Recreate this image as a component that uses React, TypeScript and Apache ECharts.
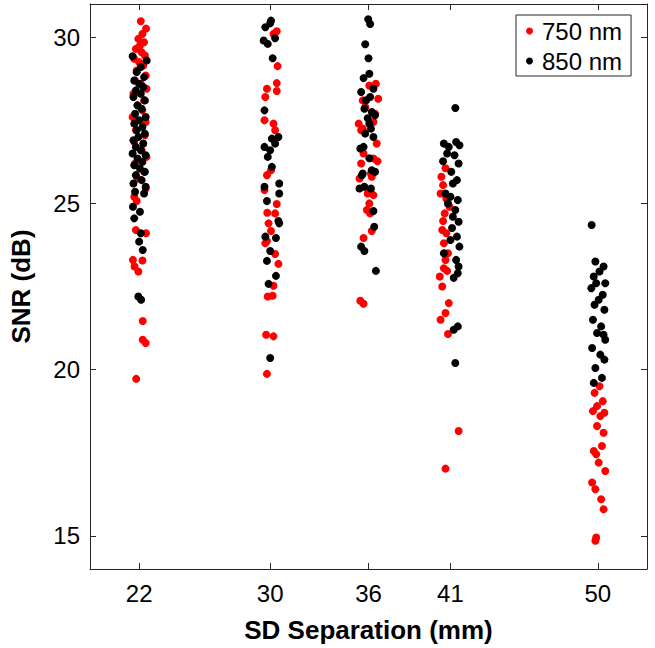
import React, { useEffect, useRef } from "react";
import * as echarts from "echarts";

const separations = [22, 30, 36, 41, 50];
const snrTicks = [15, 20, 25, 30];
const wavelengths = ["750 nm", "850 nm"];

// [SD separation (mm, with jitter), SNR (dB)]
const red22 = [[22.10,30.48],[22.42,30.26],[22.20,30.10],[21.95,29.95],[22.30,29.85],[22.05,29.75],[21.80,29.65],[22.15,29.55],[22.35,29.45],[21.70,29.35],[22.00,29.25],[22.25,29.15],[21.85,29.00],[22.40,28.85],[21.75,28.70],[22.10,28.60],[22.45,28.45],[21.65,28.30],[22.30,28.10],[21.90,27.95],[22.20,27.80],[21.60,27.60],[22.40,27.45],[21.80,27.20],[22.35,27.05],[21.70,26.85],[22.15,26.60],[22.45,26.40],[21.75,26.20],[22.30,25.95],[21.90,25.75],[22.40,25.45],[21.70,25.20],[21.85,25.07],[21.80,24.20],[22.42,24.10],[21.62,23.30],[22.20,23.28],[21.72,23.10],[21.95,22.95],[22.22,21.46],[22.22,20.90],[22.40,20.80],[21.82,19.72]];
const black22 = [[21.60,29.43],[22.46,29.30],[22.10,29.10],[21.85,28.95],[22.30,28.80],[21.70,28.70],[22.00,28.60],[22.25,28.50],[21.80,28.40],[22.10,28.30],[21.65,28.20],[22.35,28.10],[21.90,27.95],[22.15,27.85],[21.75,27.70],[22.40,27.60],[22.00,27.50],[21.70,27.40],[22.20,27.30],[21.85,27.20],[22.35,27.10],[21.95,27.00],[21.65,26.90],[22.25,26.80],[21.80,26.70],[22.10,26.60],[21.60,26.50],[22.40,26.45],[21.90,26.35],[22.20,26.25],[21.70,26.15],[22.05,26.05],[22.35,25.95],[21.80,25.85],[22.15,25.70],[21.65,25.60],[22.40,25.50],[21.75,25.35],[22.30,25.30],[21.62,24.90],[22.05,24.75],[21.70,24.55],[22.10,24.10],[22.00,23.85],[22.22,23.60],[21.95,22.20],[22.12,22.10]];
const red30 = [[30.40,30.18],[30.20,30.10],[30.45,29.13],[30.40,28.62],[30.40,28.38],[29.80,28.45],[29.70,28.20],[30.20,27.40],[30.30,27.20],[29.65,27.50],[30.05,26.00],[29.80,25.85],[30.40,24.98],[30.30,24.70],[29.82,24.72],[29.90,24.40],[30.05,24.17],[29.80,23.87],[30.30,23.48],[30.50,23.18],[30.20,22.52],[29.85,22.20],[30.15,22.22],[30.20,21.00],[29.75,21.05],[29.80,19.87],[29.70,23.80],[29.65,25.40]];
const black30 = [[30.05,30.50],[30.00,30.42],[29.70,30.30],[30.30,29.97],[29.85,29.80],[29.60,29.90],[30.15,29.37],[30.50,27.00],[30.10,26.95],[30.30,26.80],[30.00,26.60],[29.85,26.40],[29.65,26.70],[30.10,26.10],[30.55,25.60],[30.55,25.30],[29.80,25.07],[29.65,25.50],[30.50,24.47],[30.55,24.40],[30.35,23.96],[30.00,23.57],[29.80,23.27],[30.35,22.82],[29.90,22.58],[29.70,24.00],[30.00,20.35],[29.65,27.80]];
const red36 = [[36.45,28.60],[36.05,28.55],[36.59,28.15],[35.65,28.10],[35.40,27.40],[36.30,27.45],[35.65,27.25],[35.55,27.20],[36.50,26.80],[35.70,26.50],[36.30,26.35],[35.55,26.20],[36.55,26.27],[36.20,25.80],[35.45,25.75],[36.15,25.90],[35.95,25.30],[36.30,25.25],[36.05,25.00],[35.90,24.80],[36.10,24.70],[36.20,24.17],[35.70,23.96],[35.50,22.07],[35.70,21.98],[36.40,27.70],[35.80,27.90]];
const black36 = [[35.98,30.54],[36.10,30.40],[35.80,29.79],[36.00,29.37],[36.05,28.90],[35.70,28.77],[36.30,28.45],[35.55,28.35],[36.10,28.20],[35.85,28.10],[35.75,27.85],[36.20,27.75],[36.40,27.65],[35.95,27.56],[36.05,27.40],[36.15,27.25],[35.80,27.10],[36.30,27.00],[35.70,26.70],[35.50,26.65],[36.05,26.36],[36.20,26.00],[36.40,25.95],[35.60,25.85],[35.65,25.90],[35.45,25.45],[36.15,25.45],[35.75,25.50],[36.30,24.77],[36.35,24.30],[35.55,23.70],[35.75,23.57],[36.45,22.97]];
const red41 = [[40.70,26.06],[40.45,25.80],[40.55,25.55],[40.75,25.15],[40.65,24.70],[40.55,24.47],[40.50,24.20],[40.75,24.10],[40.60,23.80],[40.85,23.50],[40.70,23.30],[40.60,23.05],[40.80,22.97],[40.50,22.50],[40.90,22.00],[40.70,21.70],[40.40,21.50],[40.85,21.07],[40.70,17.02],[41.50,18.15],[40.40,25.30],[40.95,24.90],[40.35,22.80]];
const black41 = [[41.30,27.87],[40.60,26.80],[40.90,26.70],[41.35,26.85],[41.55,26.75],[40.80,26.50],[41.25,26.45],[40.55,26.27],[41.50,26.20],[41.05,25.95],[41.40,25.70],[41.15,25.60],[40.70,25.30],[41.00,25.20],[41.45,25.10],[40.85,25.00],[41.30,24.80],[41.15,24.60],[41.50,24.45],[41.10,24.26],[41.40,24.00],[41.55,23.70],[40.60,23.50],[41.35,23.30],[41.50,23.10],[41.20,22.76],[41.45,22.90],[41.20,21.20],[41.45,21.30],[41.30,20.20],[41.00,23.90]];
const red50 = [[50.10,19.50],[49.80,19.30],[50.30,19.05],[49.95,18.90],[50.40,18.70],[50.15,18.60],[49.70,18.75],[50.35,18.10],[49.75,17.55],[49.90,17.45],[50.05,17.20],[50.45,16.95],[49.65,16.60],[49.85,16.40],[50.20,16.10],[50.35,15.80],[49.90,14.95],[49.85,14.85],[50.25,17.70],[49.95,18.30]];
const black50 = [[49.62,24.35],[49.85,23.25],[50.35,23.10],[50.10,22.95],[49.75,22.80],[50.45,22.60],[49.60,22.45],[50.30,22.25],[50.05,22.10],[49.80,21.95],[50.40,21.80],[49.70,21.50],[50.20,21.30],[49.95,21.10],[50.45,20.90],[49.65,20.65],[50.15,20.45],[50.40,20.30],[49.85,20.05],[50.25,19.75],[49.75,19.60],[50.35,21.05],[49.90,22.60]];

const redAll = [...red22, ...red30, ...red36, ...red41, ...red50];
const blackAll = [...black22, ...black30, ...black36, ...black41, ...black50];

const FONT = "'Liberation Sans', Arial, Helvetica, sans-serif";
const AXIS_COLOR = "#262626";

export default function App() {
  const ref = useRef<HTMLDivElement>(null);
  useEffect(() => {
    document.body.style.margin = "0";
    const chart = echarts.init(ref.current!, null, { renderer: "svg" });
    const lineStyle = { color: AXIS_COLOR, width: 1 };
    const baseX = {
      type: "value" as const,
      min: 19,
      max: 53,
      splitLine: { show: false },
      axisLine: { show: true, onZero: false, lineStyle },
      axisTick: { show: true, inside: true, length: 6, customValues: separations, lineStyle },
    };
    const baseY = {
      type: "value" as const,
      min: 14,
      max: 31,
      splitLine: { show: false },
      axisLine: { show: true, onZero: false, lineStyle },
      axisTick: { show: true, inside: true, length: 6, customValues: snrTicks, lineStyle },
    };
    chart.setOption({
      animation: false,
      textStyle: { fontFamily: FONT },
      grid: { left: 87, right: 8, top: 4, bottom: 79, containLabel: false },
      legend: {
        data: wavelengths,
        orient: "vertical",
        left: 516,
        top: 15,
        icon: "circle",
        itemWidth: 7,
        itemHeight: 7,
        itemGap: 6,
        padding: [4, 9, 3, 10],
        borderColor: AXIS_COLOR,
        borderWidth: 1,
        backgroundColor: "#fff",
        textStyle: { fontSize: 24, color: "#000", fontFamily: FONT, lineHeight: 24, padding: [0, 0, 0, 4] },
      },
      xAxis: [
        {
          ...baseX,
          position: "bottom",
          axisLabel: {
            customValues: separations,
            fontSize: 24,
            color: "#000",
            margin: 12,
            fontFamily: FONT,
          },
          name: "SD Separation (mm)",
          nameLocation: "middle",
          nameGap: 48,
          nameTextStyle: { fontSize: 26, fontWeight: "bold", color: "#000", fontFamily: FONT },
        },
        { ...baseX, position: "top", axisLabel: { show: false } },
      ],
      yAxis: [
        {
          ...baseY,
          position: "left",
          axisLabel: {
            customValues: snrTicks,
            fontSize: 24,
            color: "#000",
            margin: 10,
            fontFamily: FONT,
          },
          name: "SNR (dB)",
          nameLocation: "middle",
          nameGap: 56,
          nameRotate: 90,
          nameTextStyle: { fontSize: 26, fontWeight: "bold", color: "#000", fontFamily: FONT },
        },
        { ...baseY, position: "right", axisLabel: { show: false } },
      ],
      series: [
        {
          name: wavelengths[0],
          type: "scatter",
          xAxisIndex: 0,
          yAxisIndex: 0,
          data: redAll,
          symbol: "circle",
          symbolSize: 8,
          itemStyle: { color: "#ff0000", opacity: 1 },
        },
        {
          name: wavelengths[1],
          type: "scatter",
          xAxisIndex: 0,
          yAxisIndex: 0,
          data: blackAll,
          symbol: "circle",
          symbolSize: 8,
          itemStyle: { color: "#000000", opacity: 1 },
        },
      ],
    });
    return () => chart.dispose();
  }, []);
  return <div ref={ref} style={{ width: 655, height: 648 }} />;
}
